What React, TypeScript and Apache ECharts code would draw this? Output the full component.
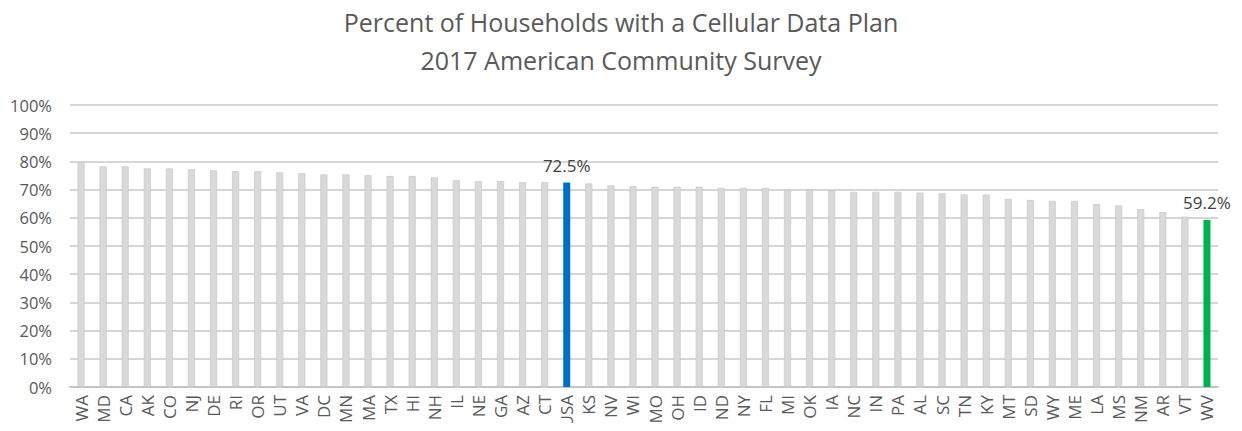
import React, { useEffect, useRef } from "react";
import * as echarts from "echarts";

const categories = ["WA","MD","CA","AK","CO","NJ","DE","RI","OR","UT","VA","DC","MN","MA","TX","HI","NH","IL","NE","GA","AZ","CT","USA","KS","NV","WI","MO","OH","ID","ND","NY","FL","MI","OK","IA","NC","IN","PA","AL","SC","TN","KY","MT","SD","WY","ME","LA","MS","NM","AR","VT","WV"];
const values = [79.8,78.2,78.2,77.5,77.5,77.2,76.8,76.5,76.5,76.1,75.8,75.4,75.4,75.1,74.8,74.8,74.3,73.3,73.0,73.0,72.6,72.6,72.5,72.2,71.5,71.2,71.0,71.0,71.0,70.6,70.6,70.6,69.9,69.9,69.8,69.2,69.2,69.2,68.9,68.7,68.3,68.2,66.7,66.3,66.0,66.0,64.9,64.4,63.1,62.0,60.4,59.2];
const highlighted: Record<string, string> = { USA: "#0070c0", WV: "#00b050" };
const yTicks = [0, 10, 20, 30, 40, 50, 60, 70, 80, 90, 100];
const titleLines = ["Percent of Households with a Cellular Data Plan", "2017 American Community Survey"];

const FONT = "Open Sans";

export default function App() {
  const ref = useRef<HTMLDivElement>(null);
  useEffect(() => {
    const chart = echarts.init(ref.current!, null, { renderer: "svg" });
    chart.setOption({
      animation: false,
      backgroundColor: "#ffffff",
      title: {
        text: titleLines.join("\n"),
        left: "center",
        top: -2,
        textStyle: { fontFamily: FONT, fontSize: 25, fontWeight: "normal", color: "#595959", lineHeight: 38 },
      },
      grid: { left: 70, right: 24, top: 105, bottom: 44 },
      xAxis: {
        type: "category",
        data: categories,
        axisTick: { show: false },
        axisLine: { lineStyle: { color: "#bfbfbf", width: 1.5 } },
        axisLabel: { rotate: 90, interval: 0, fontFamily: FONT, fontSize: 17, color: "#595959", margin: 8 },
      },
      yAxis: {
        type: "value",
        min: yTicks[0],
        max: yTicks[yTicks.length - 1],
        interval: 10,
        axisLabel: { formatter: "{value}%", fontFamily: FONT, fontSize: 16.5, color: "#595959", margin: 18 },
        splitLine: { lineStyle: { color: "#c8c8c8", width: 1.5 } },
        axisLine: { show: false },
        axisTick: { show: false },
      },
      series: [
        {
          type: "bar",
          barWidth: 7,
          data: categories.map((c, i) => {
            const col = highlighted[c];
            return col
              ? {
                  value: values[i],
                  itemStyle: { color: col },
                  label: {
                    show: true,
                    position: "top",
                    distance: 9,
                    formatter: "{c}%",
                    fontFamily: FONT,
                    fontSize: 17,
                    color: "#404040",
                  },
                }
              : { value: values[i], itemStyle: { color: "#d9d9d9", borderColor: "#c4c4c4", borderWidth: 0.6 } };
          }),
        },
      ],
    });
    return () => chart.dispose();
  }, []);
  return <div ref={ref} style={{ width: 1242, height: 431, margin: -8 }} />;
}
